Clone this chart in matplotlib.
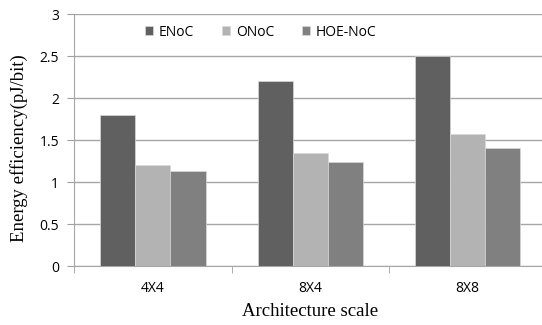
import numpy as np
import matplotlib.pyplot as plt

categories = ["4X4", "8X4", "8X8"]
series = ["ENoC", "ONoC", "HOE-NoC"]
enoc = [1.80, 2.20, 2.50]
onoc = [1.20, 1.34, 1.57]
hoe = [1.13, 1.24, 1.41]
colors = ["#606060", "#b3b3b3", "#808080"]
yticks = [0, 0.5, 1, 1.5, 2, 2.5, 3]

tick_font = "Open Sans"
label_font = "Liberation Serif"

W, H = 542, 325
left, right, top, bottom = 74.3, 546, 14, 266
fig = plt.figure(figsize=(W / 100, H / 100), dpi=100)
ax = fig.add_axes([left / W, 1 - bottom / H, (right - left) / W, (bottom - top) / H])

x = np.arange(len(categories))
w = 0.223
for i, (vals, name) in enumerate(zip([enoc, onoc, hoe], series)):
    ax.bar(x + (i - 1) * w, vals, w, color=colors[i], label=name,
           edgecolor="#d8d8d8", linewidth=0.5, zorder=3)

ax.set_xlim(-0.5, len(categories) - 0.5)
ax.set_ylim(0, 3)
ax.set_yticks(yticks)
ax.set_yticklabels([f"{t:g}" for t in yticks], fontfamily=tick_font, fontsize=10)
ax.set_xticks(x)
ax.set_xticklabels(categories, fontfamily=tick_font, fontsize=10)
ax.set_xticks(np.arange(len(categories) + 1) - 0.5, minor=True)
ax.tick_params(axis="x", which="major", length=0, pad=11)
ax.tick_params(axis="x", which="minor", length=5, color="#a0a0a0")
ax.tick_params(axis="y", length=5, color="#a0a0a0", pad=6)

ax.grid(axis="y", color="#a6a6a6", linewidth=1, zorder=0)
for s in ["top", "right"]:
    ax.spines[s].set_visible(False)
ax.spines["left"].set_color("#a6a6a6")
ax.spines["bottom"].set_color("#a6a6a6")

ax.set_ylabel("Energy efficiency(pJ/bit)", fontfamily=label_font, fontsize=13.5)
ax.set_xlabel("Architecture scale", fontfamily=label_font, fontsize=13.5)
ax.yaxis.set_label_coords((19 - left) / (right - left), 0.468)
ax.xaxis.set_label_coords((310 - left) / (right - left), (bottom - 312) / (bottom - top))
ax.xaxis.label.set_verticalalignment("center")
ax.yaxis.label.set_verticalalignment("center")

leg = ax.legend(loc="center left",
                bbox_to_anchor=((138 - left) / (right - left), (bottom - 32) / (bottom - top)),
                ncol=3, frameon=False, borderpad=0,
                prop={"family": tick_font, "size": 10}, handlelength=0.6, handleheight=0.6,
                handletextpad=0.4, columnspacing=2.0)

fig.savefig("out.png", dpi=100)
